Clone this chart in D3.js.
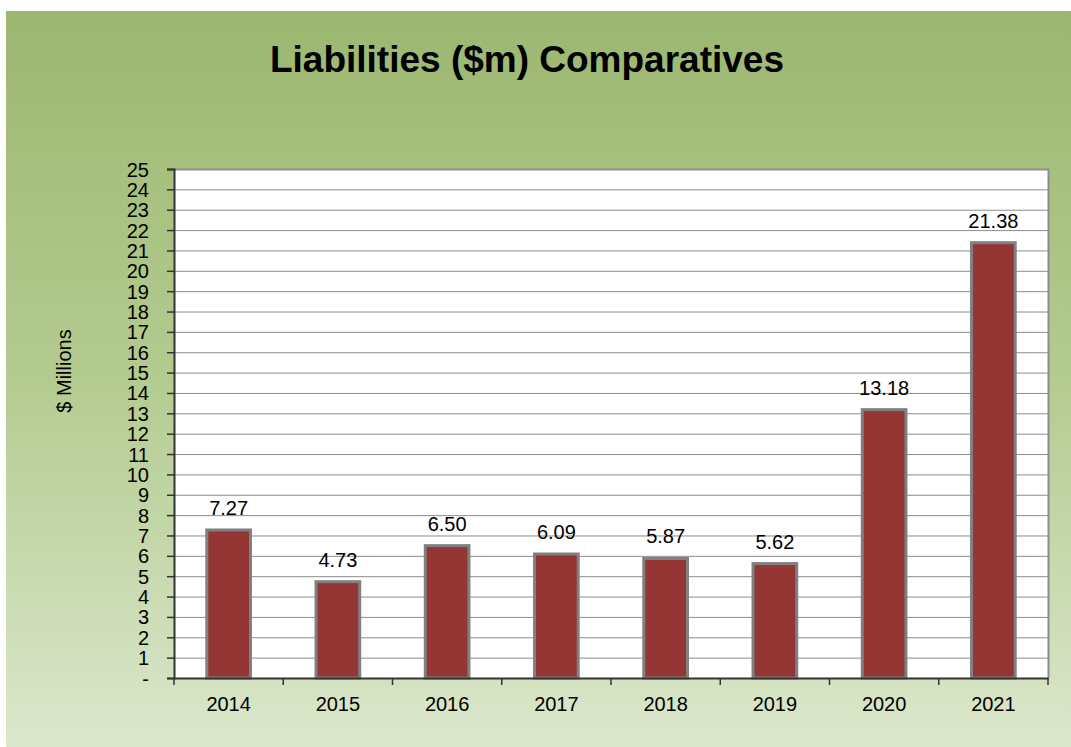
<!DOCTYPE html>
<html><head><meta charset="utf-8">
<script src="https://cdn.jsdelivr.net/npm/d3@7/dist/d3.min.js"></script>
<style>body{margin:0;background:#fff;}svg{display:block;font-family:"Liberation Sans",Arial,sans-serif;}</style>
</head><body>
<svg id="c" width="1071" height="747"></svg>
<script>
const categories = ["2014","2015","2016","2017","2018","2019","2020","2021"];
const values = [7.27, 4.73, 6.50, 6.09, 5.87, 5.62, 13.18, 21.38];
const yTicks = d3.range(0, 26, 1);
const title = "Liabilities ($m) Comparatives";
const yTitle = "$ Millions";

const svg = d3.select("#c");
const defs = svg.append("defs");
const g1 = defs.append("linearGradient").attr("id","bg").attr("x1",0).attr("y1",0).attr("x2",0).attr("y2",1);
g1.append("stop").attr("offset","0%").attr("stop-color","#9cb770");
g1.append("stop").attr("offset","50%").attr("stop-color","#b4cb90");
g1.append("stop").attr("offset","100%").attr("stop-color","#dbe7cc");
svg.append("rect").attr("x",6).attr("y",11).attr("width",1065).attr("height",736).attr("fill","url(#bg)");

const L=174, R=1048, T=169, B=678;
const x = d3.scaleBand().domain(categories).range([L,R]).paddingInner(0.6).paddingOuter(0.3);
const xb = d3.scaleBand().domain(categories).range([L,R]);
const y = d3.scaleLinear().domain([0,25]).range([B,T]);

svg.append("rect").attr("x",L).attr("y",T).attr("width",R-L).attr("height",B-T).attr("fill","#fff");

// gridlines
svg.append("g").selectAll("line").data(yTicks.filter(d=>d>0)).join("line")
  .attr("x1",L).attr("x2",R).attr("y1",d=>y(d)+0.5).attr("y2",d=>y(d)+0.5)
  .attr("stroke","#8c8c8c").attr("stroke-width",1);
// right border
svg.append("line").attr("x1",R+0.5).attr("x2",R+0.5).attr("y1",T).attr("y2",B).attr("stroke","#8c8c8c").attr("stroke-width",2);
svg.append("line").attr("x1",L).attr("x2",R+1).attr("y1",T+0.5).attr("y2",T+0.5).attr("stroke","#8c8c8c").attr("stroke-width",2);

// bars
svg.append("g").selectAll("rect").data(values).join("rect")
  .attr("x",(d,i)=>x(categories[i]))
  .attr("y",d=>y(d))
  .attr("width",x.bandwidth())
  .attr("height",d=>B-y(d))
  .attr("fill","#943634")
  .attr("stroke","#808080").attr("stroke-width",3);

// data labels
svg.append("g").selectAll("text").data(values).join("text")
  .attr("x",(d,i)=>x(categories[i])+x.bandwidth()/2)
  .attr("y",d=>y(d)-15)
  .attr("text-anchor","middle").attr("font-size",20).attr("fill","#000")
  .text(d=>d.toFixed(2));

// y axis
const yAxis = d3.axisLeft(y).tickValues(yTicks).tickSize(7).tickPadding(18)
  .tickFormat(d=>d===0?"-":d);
const ya = svg.append("g").attr("transform",`translate(${L},0)`).call(yAxis);
ya.select(".domain").attr("stroke","#333").attr("stroke-width",2);
ya.selectAll(".tick line").attr("stroke","#333").attr("stroke-width",1.5);
ya.selectAll(".tick text").attr("font-size",20).attr("fill","#000").attr("font-family","Liberation Sans, Arial, sans-serif").attr("dy","0.35em");

// x axis
const xAxis = d3.axisBottom(xb).tickSize(0).tickPadding(19);
const xa = svg.append("g").attr("transform",`translate(0,${B})`).call(xAxis);
xa.select(".domain").attr("stroke","#333").attr("stroke-width",2);
xa.selectAll(".tick text").attr("font-size",20).attr("fill","#000").attr("font-family","Liberation Sans, Arial, sans-serif");
const bounds = categories.map(c=>xb(c)).concat([R]);
svg.append("g").selectAll("line").data(bounds).join("line")
  .attr("x1",d=>d).attr("x2",d=>d).attr("y1",B).attr("y2",B+7)
  .attr("stroke","#333").attr("stroke-width",1.5);

// title
svg.append("text").attr("x",527).attr("y",72).attr("text-anchor","middle")
  .attr("font-size",37).attr("font-weight","bold").attr("fill","#000").text(title);
// y title
svg.append("text").attr("transform","translate(71,371) rotate(-90)").attr("text-anchor","middle")
  .attr("font-size",20).attr("fill","#000").text(yTitle);
</script>
</body></html>
